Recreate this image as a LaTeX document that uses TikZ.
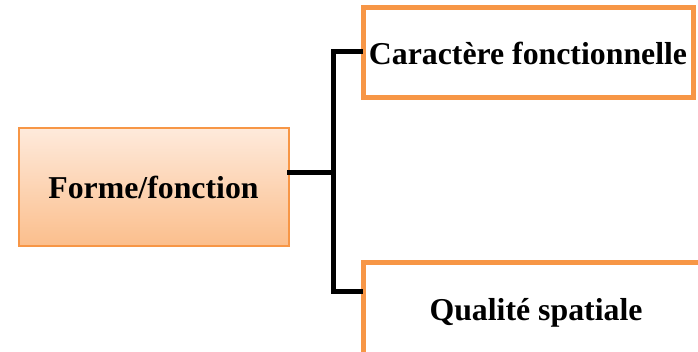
\documentclass[tikz,border=0pt]{standalone}
\usepackage{fontspec}
\setmainfont{Liberation Serif}
\definecolor{acc}{HTML}{F79646}
\definecolor{ftop}{HTML}{FEEADB}
\definecolor{fbot}{HTML}{FBBE8C}
\begin{document}
\begin{tikzpicture}[x=1pt,y=-1pt,
  lbl/.style={font=\fontsize{31.8}{36}\selectfont\bfseries, text=black},
  leftbox/.style={draw=acc, line width=2pt, top color=ftop, bottom color=fbot, minimum width=270pt, minimum height=118pt, inner sep=0pt},
  rightbox/.style={draw=acc, line width=5pt, fill=white, minimum width=330pt, minimum height=90pt, inner sep=0pt},
  conn/.style={line width=5pt, line cap=rect}]
\useasboundingbox (0,0) rectangle (698,352);
\clip (0,0) rectangle (698,352);
\node[leftbox, lbl] (f) at (153.5,187.5) {Forme/fonction};
\node[rightbox, lbl] (c) at (528,53) {Caractère fonctionnelle};
\node[rightbox, lbl, minimum width=346pt, minimum height=100pt] (q) at (536,313) {Qualité spatiale};
\coordinate (fo) at (f.east |- 0,173);
\coordinate (j) at (333,173);
\draw[conn] (fo) -- (j);
\draw[conn] (c.west |- 0,52) -| (333,292) -- (q.west |- 0,292);
\end{tikzpicture}
\end{document}
